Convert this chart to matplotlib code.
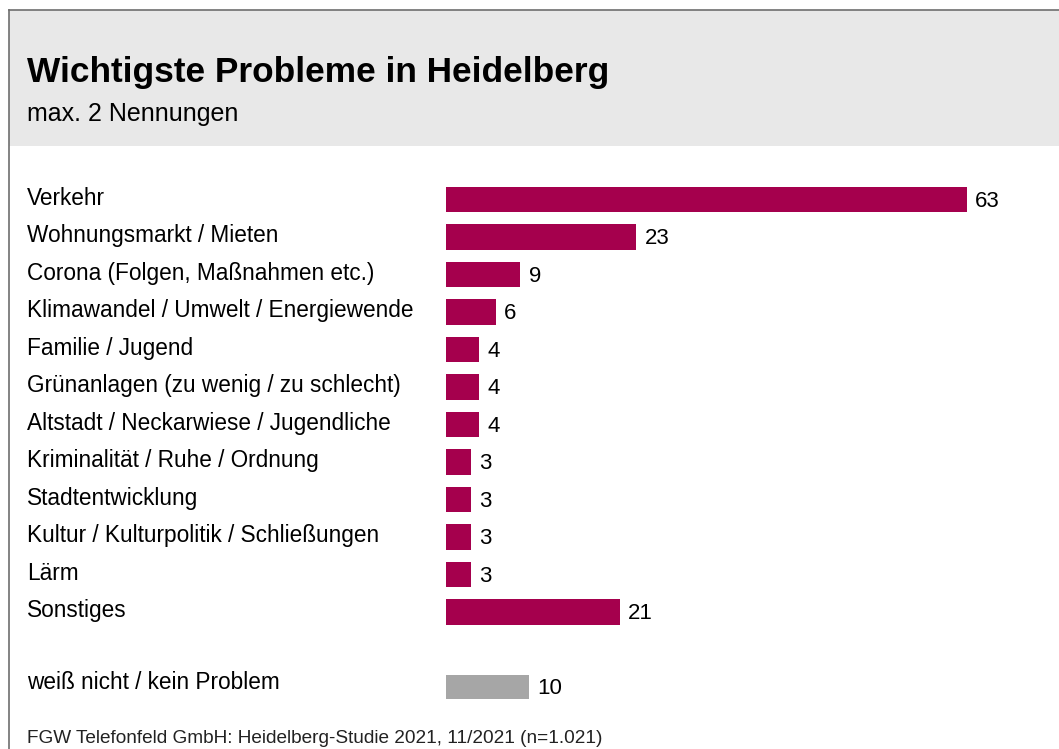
import matplotlib.pyplot as plt
from matplotlib.patches import Rectangle
from matplotlib.lines import Line2D
from matplotlib.transforms import blended_transform_factory

plt.rcParams['font.family'] = ['Liberation Sans', 'DejaVu Sans']

# data
categories = ["Verkehr", "Wohnungsmarkt / Mieten", "Corona (Folgen, Maßnahmen etc.)",
              "Klimawandel / Umwelt / Energiewende", "Familie / Jugend",
              "Grünanlagen (zu wenig / zu schlecht)", "Altstadt / Neckarwiese / Jugendliche",
              "Kriminalität / Ruhe / Ordnung", "Stadtentwicklung",
              "Kultur / Kulturpolitik / Schließungen", "Lärm", "Sonstiges"]
values = [63, 23, 9, 6, 4, 4, 4, 3, 3, 3, 3, 21]
extra_label = "weiß nicht / kein Problem"
extra_value = 10

BAR_COLOUR = "#A5004D"
GREY_COLOUR = "#A6A6A6"
HEADER_COLOUR = "#E8E8E8"
FRAME_COLOUR = "#6E6E6E"

W, H = 1059, 749
fig = plt.figure(figsize=(W / 100, H / 100), dpi=100)


def fx(px):
    return px / W


def fy(py):
    return 1 - py / H


# header box and frame
fig.patches.append(Rectangle((fx(9), fy(146)), 1 - fx(9), fy(10) - fy(146),
                             transform=fig.transFigure, facecolor=HEADER_COLOUR,
                             edgecolor="none", zorder=0))
fig.lines.append(Line2D([fx(9), 1], [fy(10), fy(10)], transform=fig.transFigure,
                        color=FRAME_COLOUR, lw=1.2))
fig.lines.append(Line2D([fx(9), fx(9)], [fy(10), 0], transform=fig.transFigure,
                        color=FRAME_COLOUR, lw=1.2))

fig.text(fx(27), fy(82), "Wichtigste Probleme in Heidelberg", fontsize=25.4,
         fontweight="bold", va="baseline", ha="left")
fig.text(fx(27), fy(121), "max. 2 Nennungen", fontsize=18, va="baseline", ha="left")
fig.text(fx(27), fy(743), "FGW Telefonfeld GmbH: Heidelberg-Studie 2021, 11/2021 (n=1.021)",
         fontsize=13.7, va="baseline", ha="left", color="#222222")

# bar axes
row = 37.5
top_c = 199.5
n_rows = 14
ax_top = top_c - row / 2
ax_bot = top_c + (n_rows - 1) * row + row / 2
unit = (967 - 446) / 63
xmax = 70
ax = fig.add_axes([fx(446), fy(ax_bot), xmax * unit / W, (ax_bot - ax_top) / H])
ax.set_xlim(0, xmax)
ax.set_ylim(n_rows - 0.5, -0.5)
ax.axis("off")

pos = list(range(len(values)))
ax.barh(pos, values, height=0.67, color=BAR_COLOUR)
grey_pos = n_rows - 1
ax.barh([grey_pos], [extra_value], height=0.65, color=GREY_COLOUR)

lab_tr = blended_transform_factory(fig.transFigure, ax.transData)
for p, (c, v) in enumerate(zip(categories, values)):
    ax.text(fx(27), p - 0.03, c, transform=lab_tr, fontsize=16.3, va="center", ha="left")
    ax.text(v + 1.0, p + 0.05, str(v), fontsize=16, va="center", ha="left")
ax.text(fx(27), grey_pos - 0.12, extra_label, transform=lab_tr, fontsize=16.3,
        va="center", ha="left")
ax.text(extra_value + 1.0, grey_pos + 0.03, str(extra_value), fontsize=16,
        va="center", ha="left")

fig.savefig("out.png", dpi=100)
